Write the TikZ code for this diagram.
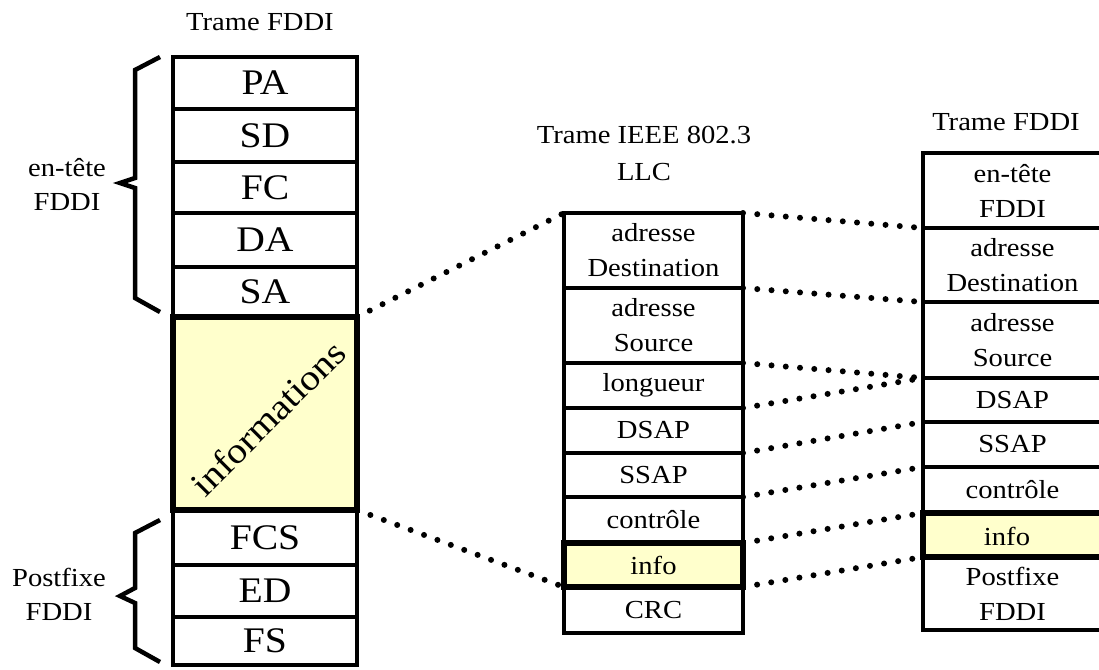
\documentclass[tikz,border=0pt]{standalone}
\usepackage{fontspec}
\setmainfont[FakeStretch=1.1]{Liberation Serif}
\definecolor{infoyellow}{RGB}{255,255,204}
\begin{document}
\begin{tikzpicture}[x=1pt,y=-1pt,
  txt/.style={inner sep=0pt,outer sep=0pt,align=center,font=\fontsize{26}{35}\selectfont},
  cell/.style={draw,line width=4.5pt,inner sep=0pt,outer sep=0pt,fill=white,align=center},
  lcell/.style={cell,minimum width=184pt,font=\fontsize{36}{40}\selectfont},
  mcell/.style={cell,minimum width=179pt,font=\fontsize{26}{35}\selectfont},
  infocell/.style={line width=6.5pt,fill=infoyellow},
  brace/.style={line width=4.5pt,line join=miter},
  dots/.style={line width=6pt,line cap=round,dash pattern=on 0pt off 14.3pt}]
\useasboundingbox (0,0) rectangle (1099,669);
% titles
\node[txt] (t1) at (260,22) {Trame FDDI};
\node[txt,font=\fontsize{26}{37}\selectfont] (t2) at (644,153) {Trame IEEE 802.3\\LLC};
\node[txt] (t3) at (1006,122) {Trame FDDI};
% left column
\node[lcell,minimum height=52pt] (pa) at (265,83) {PA};
\node[lcell,minimum height=53pt] (sd) at (265,135.5) {SD};
\node[lcell,minimum height=51pt] (fc) at (265,187.5) {FC};
\node[lcell,minimum height=54pt] (da) at (265,240) {DA};
\node[lcell,minimum height=50pt] (sa) at (265,292) {SA};
\node[lcell,minimum height=55pt] (fcs) at (265,537.5) {FCS};
\node[lcell,minimum height=52pt] (ed) at (265,591) {ED};
\node[lcell,minimum height=48pt] (fs) at (265,641) {FS};
\node[lcell,infocell,minimum height=193pt] (info) at (265,413.5) {};
\node[txt,font=\fontsize{36}{40}\selectfont,rotate=45] (infotxt) at (268,418) {informations};
% left labels and braces
\node[txt,font=\fontsize{26}{34}\selectfont] (lh) at (67,184) {en-tête\\FDDI};
\node[txt,font=\fontsize{26}{34}\selectfont] (lp) at (59,594) {Postfixe\\FDDI};
\draw[brace] (160,57) -- (135,70) -- (135,178) -- (120,183) -- (135,188) -- (135,298) -- (160,312);
\draw[brace] (160,520) -- (135,533) -- (135,588) -- (120,596) -- (135,603) -- (135,648) -- (160,662);
% middle column
\node[mcell,minimum height=75pt] (m1) at (653.5,250.5) {adresse\\Destination};
\node[mcell,minimum height=75pt] (m2) at (653.5,325.5) {adresse\\Source};
\node[mcell,minimum height=45pt] (m3) at (653.5,385.5) {longueur};
\node[mcell,minimum height=45pt] (m4) at (653.5,430.5) {DSAP};
\node[mcell,minimum height=44pt] (m5) at (653.5,475) {SSAP};
\node[mcell,minimum height=46pt] (m6) at (653.5,520) {contrôle};
\node[mcell,minimum height=46pt] (m8) at (653.5,610) {CRC};
\node[mcell,infocell,minimum height=44pt] (m7) at (653.5,565) {info};
% right column
\node[mcell,minimum height=75pt] (r1) at (1012.5,190.5) {en-tête\\FDDI};
\node[mcell,minimum height=74pt] (r2) at (1012.5,265) {adresse\\Destination};
\node[mcell,minimum height=76pt] (r3) at (1012.5,340) {adresse\\Source};
\node[mcell,minimum height=44pt] (r4) at (1012.5,400) {DSAP};
\node[mcell,minimum height=45pt] (r5) at (1012.5,444.5) {SSAP};
\node[mcell,minimum height=46pt] (r6) at (1012.5,490) {contrôle};
\node[mcell,minimum height=73pt] (r8) at (1012.5,593.5) {Postfixe\\FDDI};
\node[mcell,infocell,minimum height=44pt] (r7) at (1012.5,535) {};
\node[txt] (r7t) at (1007,536) {info};
% dotted connectors
\draw[dots] (sa.south east) -- (m1.north west);
\draw[dots] (info.south east) -- (m8.north west);
\draw[dots] (m1.north east) -- (r1.south west);
\draw[dots] (m2.north east) -- (r2.south west);
\draw[dots] (m3.north east) -- (r3.south west);
\draw[dots] (m4.north east) -- (r3.south west);
\draw[dots] (m5.north east) -- (r4.south west);
\draw[dots] (m6.north east) -- (r5.south west);
\draw[dots] (m7.north east) -- (r6.south west);
\draw[dots] (m8.north east) -- (r7.south west);
\end{tikzpicture}
\end{document}
